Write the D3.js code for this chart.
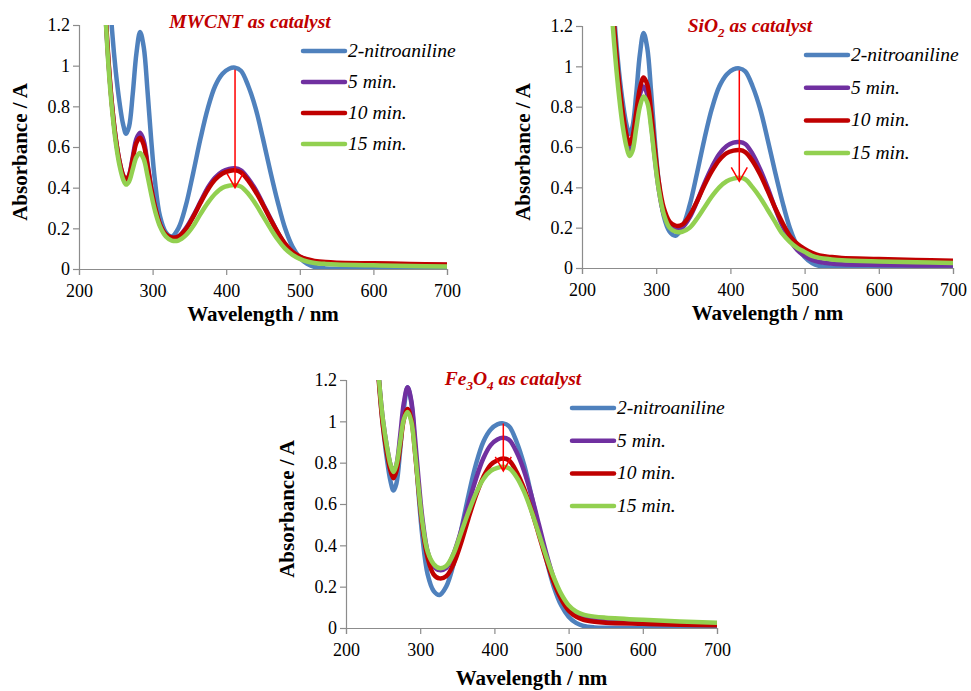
<!DOCTYPE html>
<html>
<head>
<meta charset="utf-8">
<script src="https://cdn.jsdelivr.net/npm/d3@7"></script>
<style>
  body { margin: 0; background: #fff; }
  .tick line, .domain { stroke: #8c8c8c; stroke-width: 1.2; }
</style>
</head>
<body>
<div id="wrapper"></div>
<script>
// data (absorbance per wavelength, nm)
const wavelengths = [236, 240, 245, 250, 255, 260, 264, 268, 273, 278, 283, 288, 293, 298, 303, 310, 318, 326, 335, 345,
  355, 365, 375, 385, 395, 404, 412, 420, 430, 440, 450, 460, 470, 480, 490, 500, 510, 520, 535, 550, 600, 650, 700];

const nitroaniline = [1.75, 1.45, 1.17, 0.97, 0.82, 0.71, 0.665, 0.70, 0.86, 1.06, 1.165, 1.09, 0.88, 0.64, 0.44, 0.26, 0.18, 0.16, 0.20, 0.31,
  0.47, 0.64, 0.79, 0.90, 0.96, 0.985, 0.99, 0.975, 0.90, 0.79, 0.64, 0.48, 0.33, 0.20, 0.11, 0.055, 0.025, 0.01, 0.003, 0.001, 0, 0, 0];

const mwcnt5 = [1.25, 1.02, 0.80, 0.64, 0.53, 0.46, 0.435, 0.46, 0.55, 0.64, 0.67, 0.63, 0.52, 0.40, 0.31, 0.22, 0.17, 0.155, 0.16, 0.20,
  0.26, 0.33, 0.40, 0.45, 0.48, 0.492, 0.495, 0.485, 0.445, 0.39, 0.32, 0.25, 0.18, 0.12, 0.08, 0.06, 0.045, 0.035, 0.03, 0.028, 0.025, 0.022, 0.02];
const mwcnt10 = [1.27, 1.03, 0.80, 0.64, 0.53, 0.46, 0.44, 0.46, 0.54, 0.62, 0.645, 0.61, 0.51, 0.40, 0.31, 0.22, 0.17, 0.155, 0.16, 0.195,
  0.255, 0.325, 0.39, 0.44, 0.47, 0.482, 0.485, 0.475, 0.435, 0.38, 0.315, 0.245, 0.18, 0.125, 0.085, 0.062, 0.048, 0.04, 0.034, 0.031, 0.028, 0.025, 0.022];
const mwcnt15 = [1.25, 1.0, 0.78, 0.62, 0.51, 0.44, 0.415, 0.43, 0.49, 0.55, 0.57, 0.54, 0.46, 0.37, 0.29, 0.21, 0.16, 0.14, 0.14, 0.165,
  0.21, 0.27, 0.325, 0.37, 0.40, 0.41, 0.413, 0.405, 0.37, 0.32, 0.26, 0.20, 0.145, 0.10, 0.07, 0.05, 0.037, 0.03, 0.025, 0.022, 0.018, 0.015, 0.012];

const sio5 = [1.6, 1.35, 1.1, 0.9, 0.75, 0.63, 0.585, 0.62, 0.74, 0.86, 0.90, 0.86, 0.72, 0.55, 0.40, 0.27, 0.21, 0.19, 0.20, 0.25,
  0.33, 0.42, 0.50, 0.565, 0.605, 0.622, 0.625, 0.615, 0.565, 0.49, 0.40, 0.30, 0.21, 0.14, 0.09, 0.06, 0.04, 0.03, 0.022, 0.018, 0.015, 0.013, 0.012];
const sio10 = [1.6, 1.36, 1.12, 0.92, 0.77, 0.66, 0.615, 0.65, 0.77, 0.89, 0.945, 0.91, 0.78, 0.60, 0.44, 0.30, 0.23, 0.21, 0.215, 0.26,
  0.33, 0.41, 0.48, 0.535, 0.57, 0.582, 0.585, 0.575, 0.53, 0.465, 0.385, 0.30, 0.225, 0.16, 0.12, 0.095, 0.075, 0.062, 0.055, 0.05, 0.045, 0.04, 0.036];
const sio15 = [1.55, 1.28, 1.04, 0.85, 0.70, 0.60, 0.555, 0.58, 0.69, 0.80, 0.85, 0.82, 0.70, 0.54, 0.40, 0.27, 0.20, 0.18, 0.18, 0.20,
  0.245, 0.30, 0.355, 0.40, 0.43, 0.443, 0.447, 0.44, 0.40, 0.35, 0.29, 0.23, 0.17, 0.13, 0.10, 0.08, 0.06, 0.05, 0.043, 0.038, 0.032, 0.028, 0.025];

const fe5 = [1.75, 1.45, 1.18, 1.0, 0.88, 0.79, 0.755, 0.79, 0.93, 1.09, 1.165, 1.10, 0.92, 0.71, 0.53, 0.37, 0.30, 0.28, 0.29, 0.36,
  0.47, 0.60, 0.72, 0.82, 0.885, 0.912, 0.92, 0.91, 0.85, 0.76, 0.64, 0.50, 0.36, 0.24, 0.15, 0.095, 0.065, 0.05, 0.04, 0.035, 0.028, 0.023, 0.02];
const fe10 = [1.75, 1.44, 1.16, 0.97, 0.85, 0.76, 0.725, 0.76, 0.88, 1.01, 1.06, 1.01, 0.85, 0.66, 0.49, 0.34, 0.26, 0.24, 0.25, 0.31,
  0.41, 0.53, 0.64, 0.73, 0.79, 0.812, 0.82, 0.81, 0.755, 0.675, 0.57, 0.45, 0.33, 0.22, 0.14, 0.085, 0.055, 0.04, 0.03, 0.025, 0.02, 0.016, 0.013];
const fe15 = [1.75, 1.45, 1.18, 1.0, 0.88, 0.79, 0.755, 0.79, 0.90, 1.01, 1.045, 1.0, 0.85, 0.67, 0.51, 0.37, 0.31, 0.29, 0.30, 0.36,
  0.46, 0.56, 0.65, 0.72, 0.76, 0.775, 0.78, 0.772, 0.73, 0.66, 0.565, 0.455, 0.345, 0.245, 0.165, 0.11, 0.08, 0.065, 0.055, 0.05, 0.04, 0.032, 0.026];

const seriesNames = ['2-nitroaniline', '5 min.', '10 min.', '15 min.'];
const seriesColors = ['#4f81bd', '#7030a0', '#c00000', '#92d050'];
const xTicks = [200, 300, 400, 500, 600, 700];
const yTicks = [0, 0.2, 0.4, 0.6, 0.8, 1, 1.2];

// red arrow: wavelength, start absorbance, end absorbance per panel
const arrowAt = 412;
const arrowFrom = [0.98, 0.98, 0.99];
const arrowTo = [0.40, 0.43, 0.76];

const serif = "'Liberation Serif', 'DejaVu Serif', 'Times New Roman', serif";

const panels = [
  { title: ['MWCNT', null, ' as catalyst'], series: [nitroaniline, mwcnt5, mwcnt10, mwcnt15],
    left: 79, right: 447, top: 25, bottom: 269, titleX: 250, titleY: 28, legX: 303, legY: 51, legStep: 31, xTitleDy: 52 },
  { title: ['SiO', '2', ' as catalyst'], series: [nitroaniline, sio5, sio10, sio15],
    left: 582, right: 953, top: 26, bottom: 268, titleX: 750, titleY: 32, legX: 806, legY: 55, legStep: 32.7, xTitleDy: 52 },
  { title: ['Fe', '3', 'O', '4', ' as catalyst'], series: [nitroaniline, fe5, fe10, fe15],
    left: 346, right: 717, top: 380, bottom: 628, titleX: 513, titleY: 385, legX: 572, legY: 408, legStep: 32.7, xTitleDy: 57 },
];

const svg = d3.select('#wrapper')
  .append('svg')
  .attr('width', 971)
  .attr('height', 691)
  .style('font-family', serif);

panels.forEach((p, pi) => {
  const xScale = d3.scaleLinear().domain([200, 700]).range([p.left, p.right]);
  const yScale = d3.scaleLinear().domain([0, 1.2]).range([p.bottom, p.top]);
  const g = svg.append('g').attr('class', 'panel');

  const clipId = 'clip' + pi;
  svg.append('defs').append('clipPath').attr('id', clipId)
    .append('rect')
    .attr('x', p.left).attr('y', p.top)
    .attr('width', p.right - p.left + 4).attr('height', p.bottom - p.top);

  // axes
  g.append('g')
    .attr('transform', `translate(${p.left},0)`)
    .call(d3.axisLeft(yScale).tickValues(yTicks).tickSize(6).tickPadding(3).tickFormat(d => d))
  g.append('g')
    .attr('transform', `translate(0,${p.bottom})`)
    .call(d3.axisBottom(xScale).tickValues(xTicks).tickSize(6).tickPadding(9))
  g.selectAll('.tick text')
    .style('font-size', '18px')
    .style('font-family', serif)
    .attr('fill', '#000');

  // spectra
  const line = d3.line()
    .x((d, i) => xScale(wavelengths[i]))
    .y(d => yScale(d))
    .curve(d3.curveCatmullRom.alpha(0.5));
  g.append('g').attr('clip-path', `url(#${clipId})`)
    .selectAll('path')
    .data(p.series)
    .enter()
    .append('path')
    .attr('d', d => line(d))
    .attr('fill', 'none')
    .attr('stroke', (d, i) => seriesColors[i])
    .attr('stroke-width', 4.5)
    .attr('stroke-linejoin', 'round');

  // arrow
  const ax = xScale(arrowAt), y0 = yScale(arrowFrom[pi]), y1 = yScale(arrowTo[pi]);
  g.append('path')
    .attr('d', `M${ax},${y0}L${ax},${y1}M${ax - 8},${y1 - 14}L${ax},${y1}L${ax + 8},${y1 - 14}`)
    .attr('fill', 'none')
    .attr('stroke', '#ff0000')
    .attr('stroke-width', 1.5);

  // title
  const title = g.append('text')
    .attr('x', p.titleX).attr('y', p.titleY)
    .attr('text-anchor', 'middle')
    .attr('fill', '#c00000')
    .style('font-family', serif)
    .style('font-size', '19.5px')
    .style('font-weight', 'bold')
    .style('font-style', 'italic');
  p.title.forEach((t, i) => {
    if (t === null) return;
    const isSub = i % 2 === 1;
    const prevSub = i > 0 && (i - 1) % 2 === 1 && p.title[i - 1] !== null;
    title.append('tspan')
      .attr('dy', isSub ? 5 : (prevSub ? -5 : 0))
      .style('font-size', isSub ? '13px' : null)
      .text(t);
  });

  // axis titles
  g.append('text')
    .attr('x', (p.left + p.right) / 2)
    .attr('y', p.bottom + p.xTitleDy)
    .attr('text-anchor', 'middle')
    .style('font-family', serif)
    .style('font-size', '21px')
    .style('font-weight', 'bold')
    .text('Wavelength / nm');
  g.append('text')
    .attr('transform', `translate(${p.left - 52},${(p.top + p.bottom) / 2 + 5}) rotate(-90)`)
    .attr('text-anchor', 'middle')
    .style('font-family', serif)
    .style('font-size', '21px')
    .style('font-weight', 'bold')
    .text('Absorbance / A');

  // legend
  const leg = g.append('g').selectAll('g')
    .data(seriesNames)
    .enter()
    .append('g')
    .attr('transform', (d, i) => `translate(${p.legX},${p.legY + i * p.legStep})`);
  leg.append('line')
    .attr('x1', 0).attr('x2', 42)
    .attr('stroke', (d, i) => seriesColors[i])
    .attr('stroke-width', 4.5)
    .attr('stroke-linecap', 'round');
  leg.append('text')
    .attr('x', 45).attr('y', 6)
    .style('font-family', serif)
    .style('font-size', '19.5px')
    .style('font-style', 'italic')
    .text(d => d);
});
</script>
</body>
</html>
